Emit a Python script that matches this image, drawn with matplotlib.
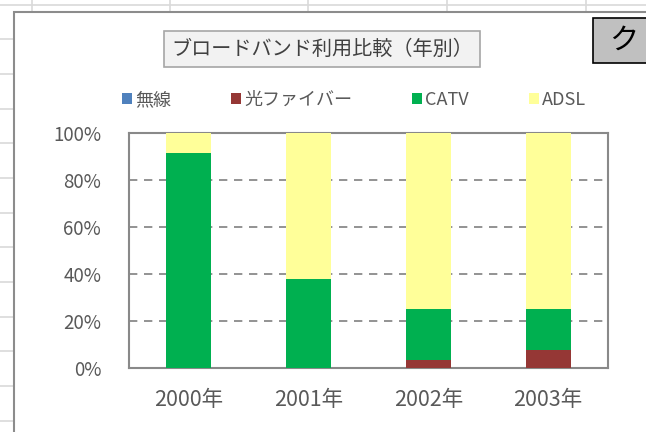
import matplotlib
matplotlib.use('Agg')
import matplotlib.pyplot as plt
from matplotlib.patches import Rectangle
from matplotlib.lines import Line2D
from matplotlib.ticker import FuncFormatter
import numpy as np

plt.rcParams['font.family'] = ['Noto Sans CJK JP', 'DejaVu Sans']

# data (share in %)
years = ['2000年', '2001年', '2002年', '2003年']
series = ['無線', '光ファイバー', 'CATV', 'ADSL']
wireless = [0.0, 0.0, 0.0, 0.0]
fiber = [0.0, 0.0, 3.4, 7.7]
catv = [91.4, 37.9, 21.6, 17.3]
adsl = [8.6, 62.1, 75.0, 75.0]
colors = ['#4f81bd', '#953735', '#00b050', '#ffff99']
title = 'ブロードバンド利用比較（年別）'

W, H = 646, 432
def fx(x):
    return x / W
def fy(y):
    return 1 - y / H

fig = plt.figure(figsize=(6.46, 4.32), dpi=100)
fig.patch.set_facecolor('white')

# spreadsheet cell grid behind the chart
grid_c = '#d9d9d9'
for x in [32, 170, 308, 447, 586]:
    fig.add_artist(Line2D([fx(x), fx(x)], [fy(0), fy(13)], color=grid_c, lw=1.2, zorder=0))
fig.add_artist(Line2D([0, 1], [fy(5), fy(5)], color=grid_c, lw=1.2, zorder=0))
for y in [39, 74, 109, 143, 178, 213, 247, 282, 317, 351, 386, 421]:
    fig.add_artist(Line2D([0, fx(14)], [fy(y), fy(y)], color=grid_c, lw=1.2, zorder=0))

# chart area
fig.add_artist(Rectangle((fx(14), fy(460)), fx(680), fy(12.5) - fy(460),
                         facecolor='white', edgecolor='#8c8c8c', lw=1.5, zorder=1))

# title box
fig.add_artist(Rectangle((fx(164), fy(67)), fx(480) - fx(164), fy(31) - fy(67),
                         facecolor='#f2f2f2', edgecolor='#a6a6a6', lw=1.2, zorder=2))
fig.text(fx(322), fy(49), title, ha='center', va='center', fontsize=14.5,
         color='#404040', zorder=3)

# the "ク" cell box at top right
fig.add_artist(Rectangle((fx(593), fy(63)), fx(100), fy(18) - fy(63),
                         facecolor='#c0c0c0', edgecolor='black', lw=1.2, zorder=4))
fig.text(fx(624), fy(41), 'ク', ha='center', va='center', fontsize=21,
         color='black', zorder=5)

ax = fig.add_axes([fx(129), fy(368), fx(608) - fx(129), fy(133) - fy(368)])
ax.set_zorder(3)
ax.patch.set_alpha(0)

x = np.arange(len(years))
bottom = np.zeros(len(years))
for name, vals, c in zip(series, [wireless, fiber, catv, adsl], colors):
    ax.bar(x, vals, 0.375, bottom=bottom, color=c, label=name, zorder=3)
    bottom += np.array(vals)

ax.set_xlim(-0.5, len(years) - 0.5)
ax.set_ylim(0, 100)
ax.set_yticks([0, 20, 40, 60, 80, 100])
ax.yaxis.set_major_formatter(FuncFormatter(lambda v, p: f'{v:.0f}%'))
ax.set_xticks(x)
ax.set_xticklabels(years)
ax.tick_params(length=0, colors='#595959')
ax.tick_params(axis='y', pad=20, labelsize=13.5)
ax.tick_params(axis='x', pad=15, labelsize=15.5)
ax.grid(axis='y', color='#808080', linestyle=(0, (5, 4)), lw=1.2, zorder=1)
for s in ax.spines.values():
    s.set_color('#898989')
    s.set_linewidth(1.5)

fig.legend(loc='center', bbox_to_anchor=(fx(354), fy(100)), ncol=4, frameon=False,
           handlelength=0.55, handleheight=0.55, handletextpad=0.2, columnspacing=3.3,
           fontsize=13, labelcolor='#595959')

fig.savefig('out.png', dpi=100)
